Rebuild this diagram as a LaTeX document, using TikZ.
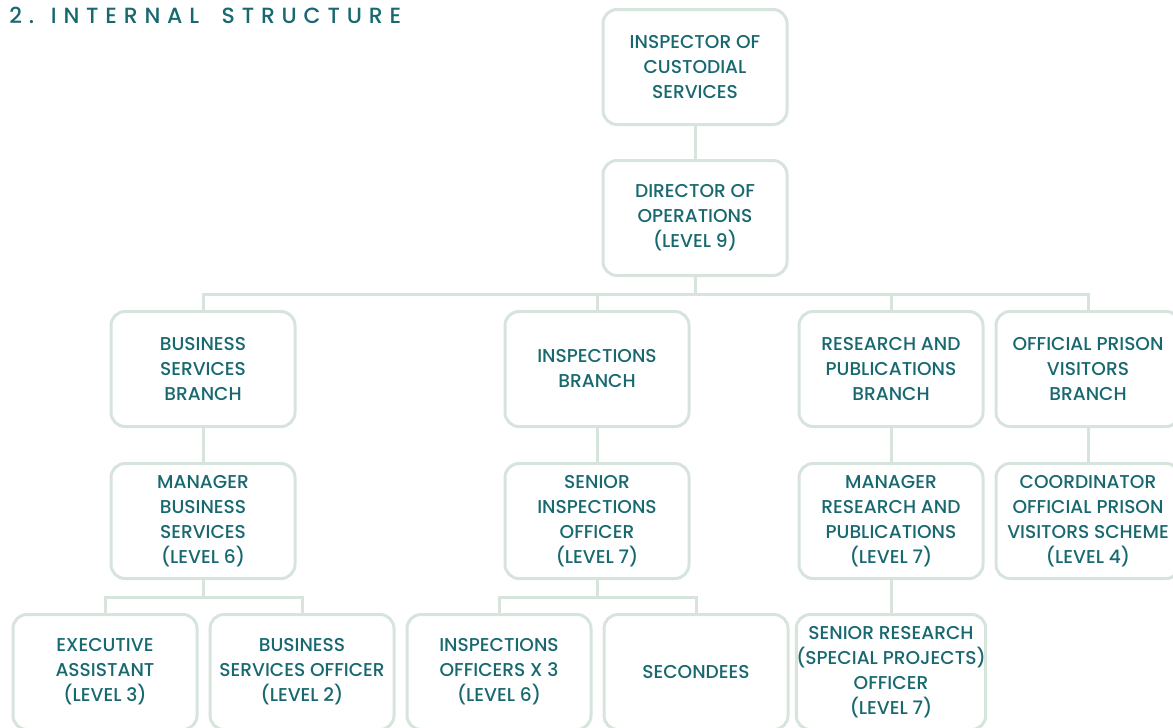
\documentclass[tikz,border=0pt]{standalone}
\usepackage{fontspec}
\setmainfont{Poppins Medium}
\definecolor{tealtext}{RGB}{24,104,112}
\definecolor{boxline}{RGB}{214,228,219}

\begin{document}
\begin{tikzpicture}[x=0.5pt, y=-0.5pt,
	post/.style={draw=boxline, line width=1.5pt, rounded corners=7pt, minimum width=92pt, minimum height=57.5pt, inner sep=0pt, align=center, text=tealtext, font=\fontsize{9.3}{12.5}\selectfont},
	link/.style={draw=boxline, line width=1.5pt}]
	\useasboundingbox (0,0) rectangle (1173,728);
	\node [anchor=west, text=tealtext, inner sep=0pt, font=\fontsize{11}{13}\selectfont\addfontfeature{LetterSpace=31}] (title) at (9,15) {2. INTERNAL\hspace{5pt} STRUCTURE};

	% top of the chart
	\node [post] (insp) at (695,67) {INSPECTOR OF\\CUSTODIAL\\SERVICES};
	\node [post] (dir) at (695,218) {DIRECTOR OF\\OPERATIONS\\(LEVEL 9)};

	% branches
	\node [post] (bsb) at (203,369) {BUSINESS\\SERVICES\\BRANCH};
	\node [post] (ib) at (597,369) {INSPECTIONS\\BRANCH};
	\node [post] (rpb) at (891,369) {RESEARCH AND\\PUBLICATIONS\\BRANCH};
	\node [post] (opvb) at (1088,369) {OFFICIAL PRISON\\VISITORS\\BRANCH};

	% branch heads
	\node [post] (mbs) at (203,521) {MANAGER\\BUSINESS\\SERVICES\\(LEVEL 6)};
	\node [post] (sio) at (597,521) {SENIOR\\INSPECTIONS\\OFFICER\\(LEVEL 7)};
	\node [post] (mrp) at (891,521) {MANAGER\\RESEARCH AND\\PUBLICATIONS\\(LEVEL 7)};
	\node [post] (copv) at (1088,521) {COORDINATOR\\OFFICIAL PRISON\\VISITORS SCHEME\\(LEVEL 4)};

	% staff
	\node [post] (ea) at (105,672) {EXECUTIVE\\ASSISTANT\\(LEVEL 3)};
	\node [post] (bso) at (302,672) {BUSINESS\\SERVICES OFFICER\\(LEVEL 2)};
	\node [post] (io) at (499,672) {INSPECTIONS\\OFFICERS X 3\\(LEVEL 6)};
	\node [post] (sec) at (696,672) {SECONDEES};
	\node [post] (srso) at (891,672) {SENIOR RESEARCH\\(SPECIAL PROJECTS)\\OFFICER\\(LEVEL 7)};

	% connectors
	\coordinate (bus) at (695,294);
	\coordinate (bsbus) at (203,597);
	\coordinate (ibus) at (597,597);
	\draw [link] (insp) -- (dir);
	\foreach \b in {bsb,ib,rpb,opvb}
		\draw [link] (dir.south) -- (bus) -| (\b.north);
	\draw [link] (bsb) -- (mbs);
	\draw [link] (ib) -- (sio);
	\draw [link] (rpb) -- (mrp);
	\draw [link] (opvb) -- (copv);
	\foreach \b in {ea,bso}
		\draw [link] (mbs.south) -- (bsbus) -| (\b.north);
	\foreach \b in {io,sec}
		\draw [link] (sio.south) -- (ibus) -| (\b.north);
	\draw [link] (mrp) -- (srso);
\end{tikzpicture}
\end{document}
